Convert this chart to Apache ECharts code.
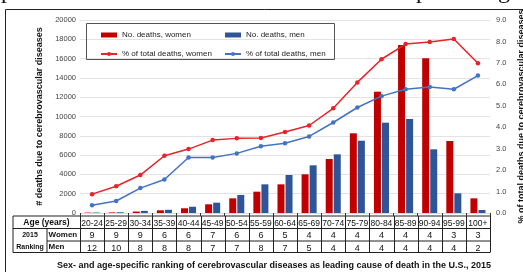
<!DOCTYPE html>
<html>
<head>
<meta charset="utf-8">
<script src="https://cdn.jsdelivr.net/npm/echarts@6/dist/echarts.min.js"></script>
<style>
  html, body { margin: 0; padding: 0; background: #fff; }
  #chart { width: 523px; height: 272px; }
</style>
</head>
<body>
<div id="chart"></div>
<script>
// age groups and the values
const ages = ["20-24", "25-29", "30-34", "35-39", "40-44", "45-49", "50-54", "55-59", "60-64",
  "65-69", "70-74", "75-79", "80-84", "85-89", "90-94", "95-99", "100+"];
const womenDeaths = [40, 60, 150, 280, 490, 900, 1520, 2210, 2970, 4010, 5600, 8260, 12570, 17410, 16030, 7460, 1520];
const menDeaths = [50, 80, 220, 330, 650, 1070, 1870, 2970, 3940, 4940, 6080, 7490, 9360, 9740, 6600, 2040, 310];
const womenPct = [0.88, 1.25, 1.77, 2.67, 2.98, 3.4, 3.48, 3.5, 3.78, 4.08, 4.88, 6.09, 7.17, 7.88, 7.97, 8.11, 6.98];
const menPct = [0.36, 0.56, 1.16, 1.56, 2.59, 2.59, 2.78, 3.11, 3.25, 3.57, 4.22, 4.92, 5.45, 5.77, 5.87, 5.77, 6.41];
const womenRank = [9, 9, 9, 6, 6, 7, 6, 6, 5, 4, 4, 4, 4, 4, 4, 3, 3];
const menRank = [12, 10, 8, 8, 8, 7, 7, 8, 7, 5, 4, 4, 4, 4, 4, 4, 2];

const FONT = "Liberation Sans";
const RED_BAR = "#c00000", BLUE_BAR = "#2f5597";
const RED_LINE = "#e8232a", BLUE_LINE = "#4472c4";

const chart = echarts.init(document.getElementById("chart"));

// extra category axes used as the table rows under the plot
function rowAxis(data, offset, margin) {
  return {
    type: "category", data: data, position: "bottom", offset: offset,
    axisLine: { show: false }, axisTick: { show: false },
    axisLabel: { interval: 0, margin: margin, fontFamily: FONT, fontSize: 9, color: "#111" }
  };
}

chart.setOption({
  animation: false,
  textStyle: { fontFamily: FONT },
  grid: { left: 80, right: 33, top: 20, bottom: 59, containLabel: false, outerBoundsMode: "none" },
  legend: [
    {
      left: 95, top: 26, orient: "vertical", itemGap: 11, itemWidth: 16, itemHeight: 5,
      textStyle: { fontSize: 8, color: "#222" },
      data: [{ name: "No. deaths, women", icon: "rect" }, { name: "% of total deaths, women" }]
    },
    {
      left: 219, top: 26, orient: "vertical", itemGap: 11, itemWidth: 16, itemHeight: 5,
      textStyle: { fontSize: 8, color: "#222" },
      data: [{ name: "No. deaths, men", icon: "rect" }, { name: "% of total deaths, men" }]
    }
  ],
  xAxis: [
    {
      type: "category", data: ages,
      axisLine: { lineStyle: { color: "#d9d9d9" } },
      axisTick: { show: true, length: 3, lineStyle: { color: "#333" } },
      axisLabel: { interval: 0, margin: 6, fontFamily: FONT, fontSize: 8.5, color: "#111" }
    },
    rowAxis(womenRank, 13, 5),
    rowAxis(menRank, 26, 5)
  ],
  yAxis: [
    {
      type: "value", min: 0, max: 20000, interval: 2000,
      name: "# deaths due to cerebrovascular diseases", nameLocation: "middle", nameRotate: 90, nameGap: 19,
      nameTextStyle: { fontSize: 9, fontWeight: "bold", color: "#111" },
      axisLine: { show: false }, axisTick: { show: false },
      axisLabel: { fontSize: 7.5, color: "#444", margin: 4, formatter: v => String(v) },
      splitLine: { lineStyle: { color: "#e3e3e3" } }
    },
    {
      type: "value", min: 0, max: 9, interval: 1,
      name: "% of total deaths due to cerebrovascular diseases", nameLocation: "middle", nameRotate: 90, nameGap: 26,
      nameTextStyle: { fontSize: 9, fontWeight: "bold", color: "#111" },
      axisLine: { show: false }, axisTick: { show: false },
      axisLabel: { fontSize: 7.5, color: "#444", margin: 6, formatter: v => v.toFixed(1) },
      splitLine: { show: false }
    }
  ],
  series: [
    { name: "No. deaths, women", type: "bar", data: womenDeaths, barWidth: 7, barGap: "15%", itemStyle: { color: RED_BAR } },
    { name: "No. deaths, men", type: "bar", data: menDeaths, barWidth: 7, barGap: "15%", itemStyle: { color: BLUE_BAR } },
    {
      name: "% of total deaths, women", type: "line", yAxisIndex: 1, data: womenPct,
      symbol: "circle", symbolSize: 4.5, lineStyle: { width: 1.5, color: RED_LINE }, itemStyle: { color: RED_LINE }
    },
    {
      name: "% of total deaths, men", type: "line", yAxisIndex: 1, data: menPct,
      symbol: "circle", symbolSize: 4.5, lineStyle: { width: 1.5, color: BLUE_LINE }, itemStyle: { color: BLUE_LINE }
    }
  ]
});

// table grid, legend box, frame and caption
const px = ages.map(a => chart.convertToPixel({ xAxisIndex: 0 }, a));
const band = px[1] - px[0];
const xL = px[0] - band / 2, xR = px[px.length - 1] + band / 2;
const tLeft = 13, tMid = 47;
const rowY = [216, 228.5, 241, 252.5];
const lineStyle = { stroke: "#222", lineWidth: 1 };
const g = [];
function seg(x1, y1, x2, y2) {
  g.push({ type: "line", silent: true, shape: { x1: x1, y1: y1, x2: x2, y2: y2 }, style: lineStyle });
}
seg(tLeft, rowY[0], xR, rowY[0]);
seg(tLeft, rowY[1], xR, rowY[1]);
seg(tMid, rowY[2], xR, rowY[2]);
seg(tLeft, rowY[3], xR, rowY[3]);
seg(tLeft, rowY[0], tLeft, rowY[3]);
seg(tMid, rowY[1], tMid, rowY[3]);
for (let i = 0; i <= ages.length; i++) {
  const x = Math.round(xL + i * band) + 0.5;
  seg(x, rowY[0], x, rowY[3]);
}
function txt(x, y, s, size, align) {
  g.push({
    type: "text", silent: true, x: x, y: y,
    style: { text: s, fontFamily: FONT, fontSize: size, fontWeight: "bold", fill: "#111", align: align || "center", verticalAlign: "middle" }
  });
}
txt((tLeft + xL) / 2, 222.5, "Age (years)", 8.5);
txt((tLeft + tMid) / 2, 235, "2015", 7);
txt((tLeft + tMid) / 2, 247, "Ranking", 7);
txt(48.5, 235, "Women", 8, "left");
txt(48.5, 247, "Men", 8, "left");
txt(274, 265.5, "Sex- and age-specific ranking of cerebrovascular diseases as leading cause of death in the U.S., 2015", 9);

g.push({ type: "rect", silent: true, shape: { x: 86.5, y: 23.5, width: 248, height: 36 }, style: { fill: "none", stroke: "#555", lineWidth: 1 } });
seg(5.5, 9.5, 523, 9.5);
seg(5.5, 9.5, 5.5, 272);
// descenders of the text line above the figure
g.push({ type: "text", silent: true, x: 1, y: -20, style: { text: "p", fontFamily: "Liberation Serif", fontSize: 24, fill: "#111" } });
g.push({ type: "text", silent: true, x: 416, y: -20, style: { text: "p", fontFamily: "Liberation Serif", fontSize: 24, fill: "#111" } });
g.push({ type: "text", silent: true, x: 498, y: -20, style: { text: "g", fontFamily: "Liberation Serif", fontSize: 24, fill: "#111" } });

chart.setOption({ graphic: g });
</script>
</body>
</html>
